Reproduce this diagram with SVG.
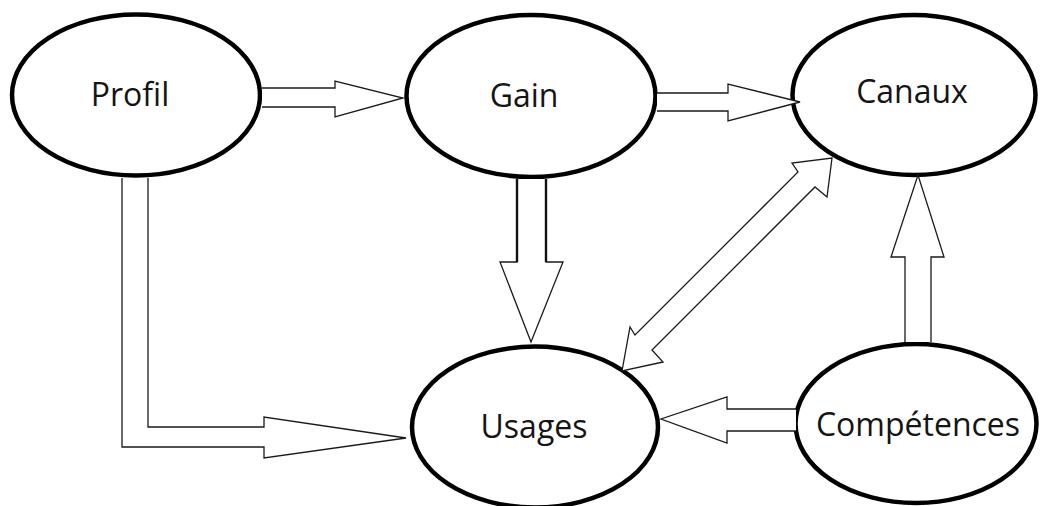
<svg xmlns="http://www.w3.org/2000/svg" width="1040" height="506" viewBox="0 0 1040 506">
  <style>
    .node { fill: #ffffff; stroke: #000000; stroke-width: 4.5; }
    .label { font-family: "Open Sans", "Noto Sans", sans-serif; font-size: 32px; fill: #151515; text-anchor: middle; }
    .arrow { fill: #ffffff; stroke: #1a1a1a; stroke-width: 1.3; stroke-linejoin: miter; }
    .thick { fill: none; stroke: #111111; stroke-width: 2.4; }
  </style>
  <rect width="1040" height="506" fill="#ffffff"/>
  <g id="node-profil">
    <ellipse class="node" cx="136" cy="95" rx="124" ry="80.5"/>
    <text class="label" x="130" y="106">Profil</text>
  </g>
  <g id="node-gain">
    <ellipse class="node" cx="531" cy="96" rx="124.5" ry="81"/>
    <text class="label" x="524" y="107">Gain</text>
  </g>
  <g id="node-canaux">
    <ellipse class="node" cx="914" cy="95" rx="121.5" ry="80"/>
    <text class="label" x="912" y="103">Canaux</text>
  </g>
  <g id="node-usages">
    <ellipse class="node" cx="535" cy="427" rx="123" ry="80.5"/>
    <text class="label" x="534" y="438">Usages</text>
  </g>
  <g id="node-competences">
    <ellipse class="node" cx="916" cy="423.5" rx="120.5" ry="79.5"/>
    <text class="label" x="918" y="436">Compétences</text>
  </g>
  <g id="connectors">
    <polyline class="arrow" points="262,88 335,88 335,81 403,98 335,117 335,107 262,107"/>
    <polyline class="arrow" points="657,93 728,93 728,84 800,102 728,121 728,111 657,111"/>
    <polyline class="arrow" points="517,179 517,262 500,262 531,342 563,262 546,262 546,179"/>
    <line class="thick" x1="517" y1="179" x2="517" y2="262"/>
    <line class="thick" x1="546" y1="179" x2="546" y2="262"/>
    <polyline class="arrow" points="122,178 122,447 264,447 264,458 406,438 264,417 264,427 148,427 148,178"/>
    <polyline class="arrow" points="905,342 905,257 891,257 918,175 944,257 931,257 931,342"/>
    <polyline class="arrow" points="796,409 727,409 727,397 661,419 727,443 727,431 796,431"/>
    <polygon class="arrow" points="622,371 630,327 635,335 798,172 792,163 832,158 827,197 815,187 652,350 663,362"/>
  </g>
</svg>
